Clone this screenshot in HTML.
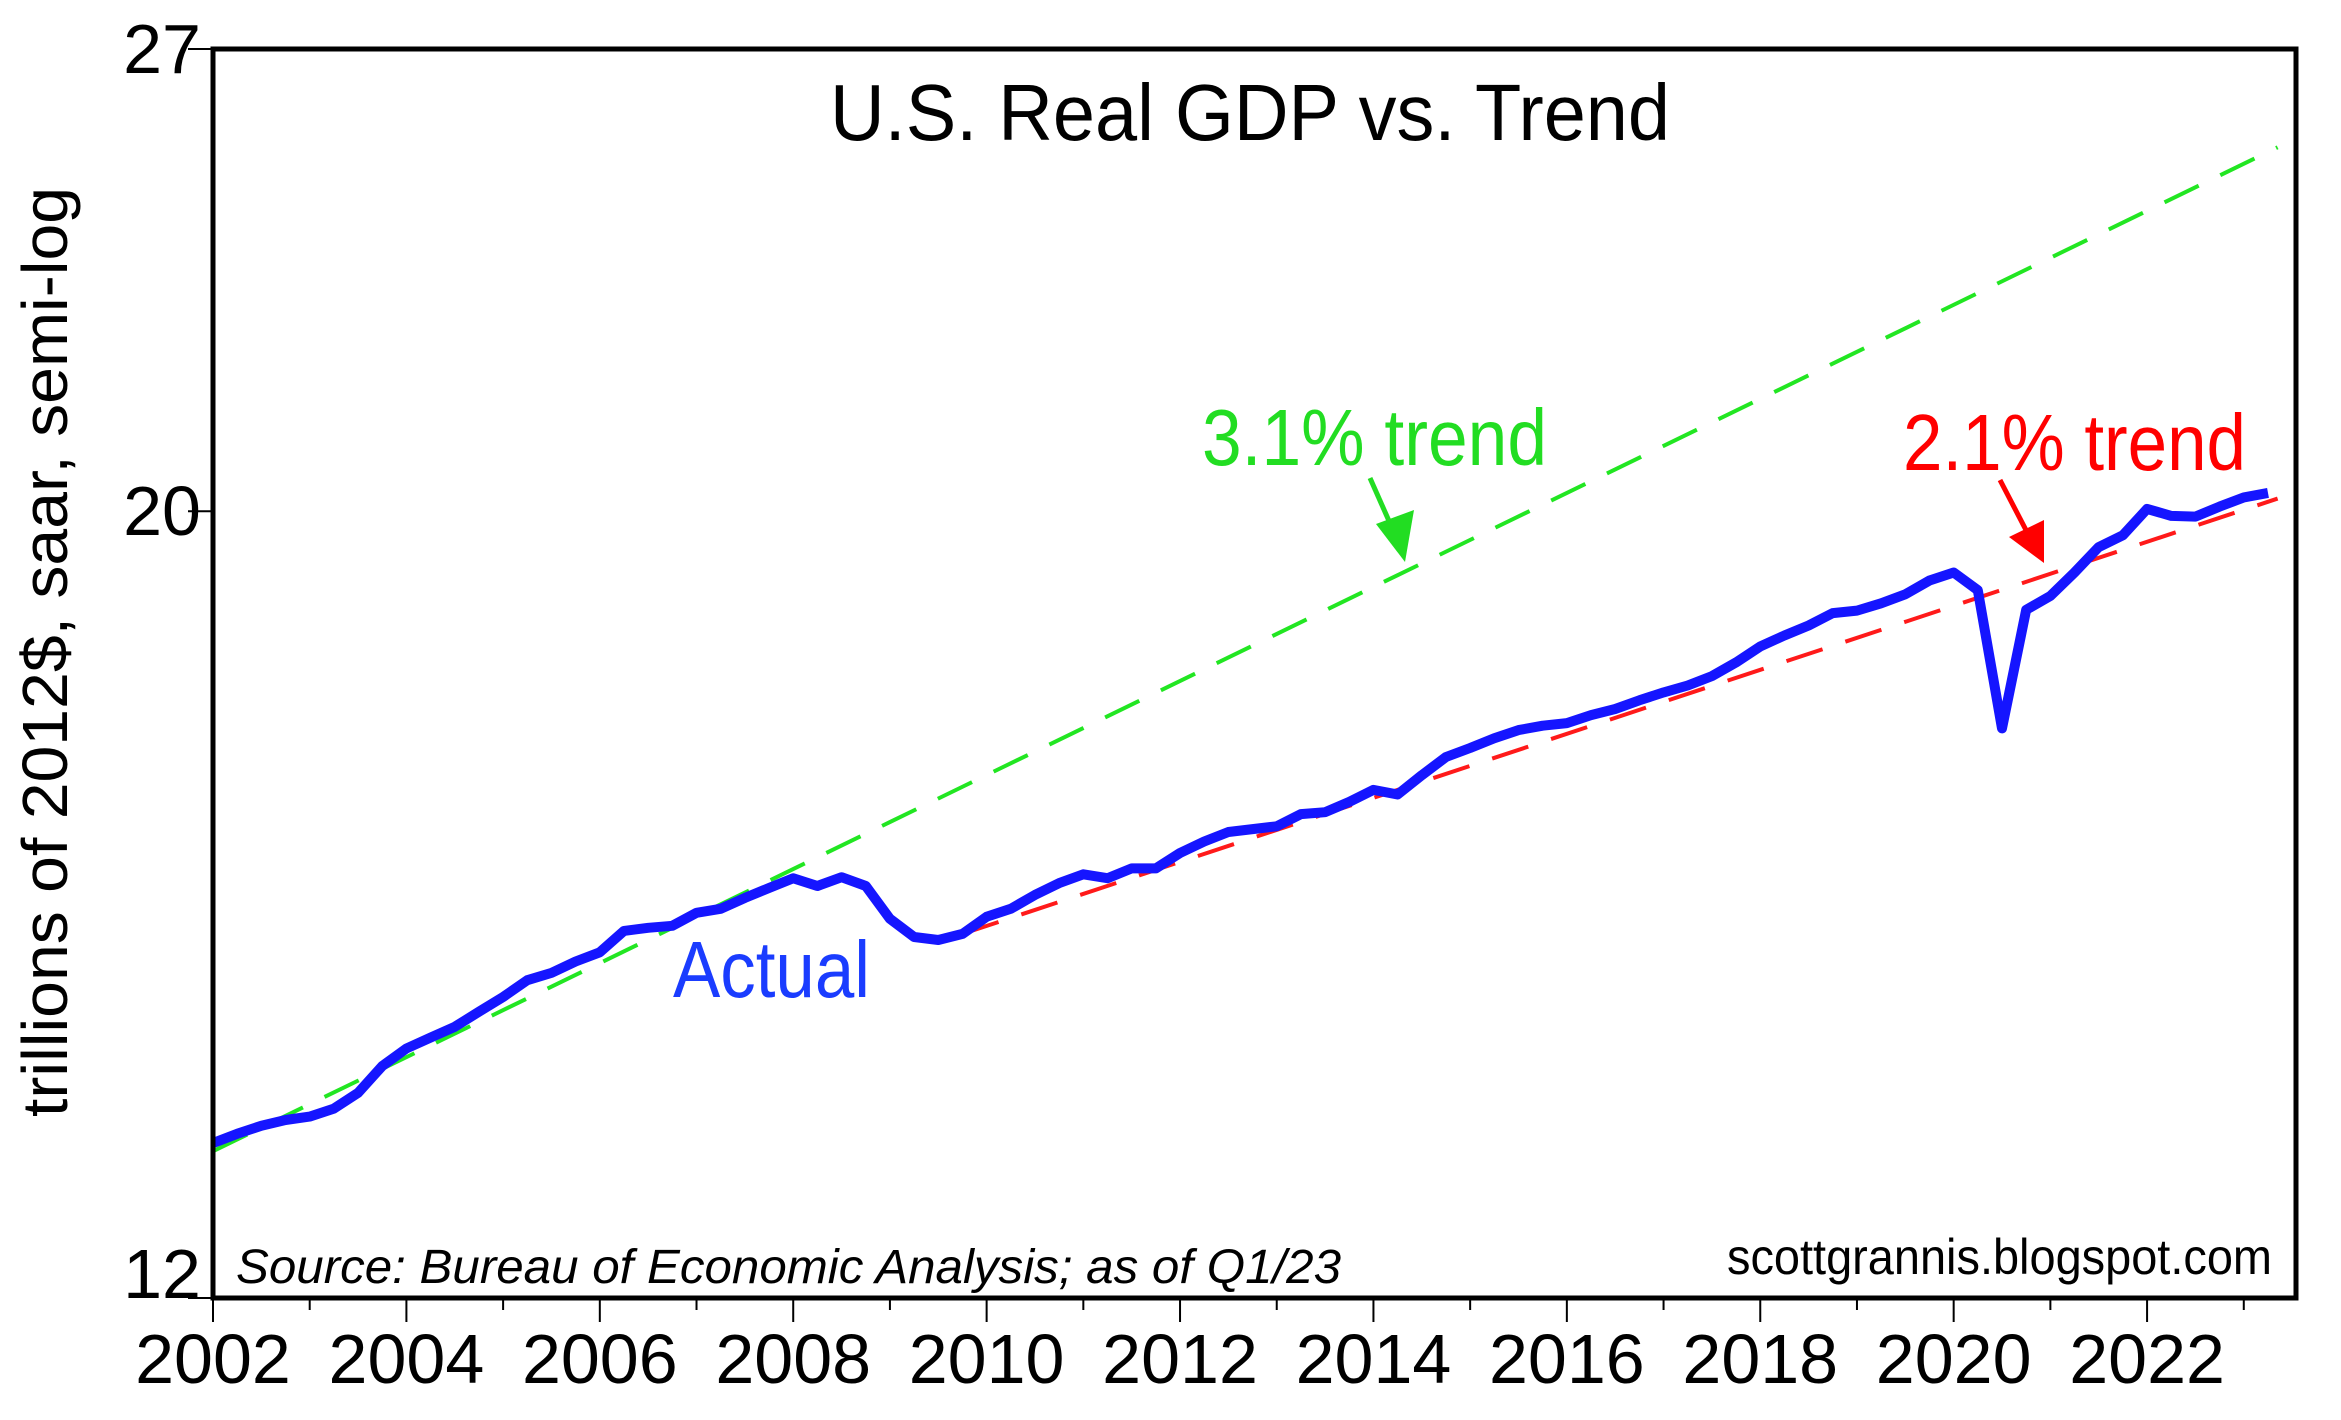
<!DOCTYPE html>
<html><head><meta charset="utf-8">
<style>
html,body{margin:0;padding:0;background:#fff;}
svg{display:block;}
text{font-family:"Liberation Sans",sans-serif;}
</style></head>
<body>
<svg id="chart" width="2341" height="1420" viewBox="0 0 2341 1420" xmlns="http://www.w3.org/2000/svg">
<rect x="0" y="0" width="2341" height="1420" fill="#fff"/>
<g id="marks"></g>
<rect x="213" y="49" width="2083" height="1249" fill="none" stroke="#000" stroke-width="5"/>
<g id="axes"></g>
<text x="1250" y="140" font-size="80" text-anchor="middle" textLength="840" lengthAdjust="spacingAndGlyphs">U.S. Real GDP vs. Trend</text>
<text x="45" y="652" font-size="64" text-anchor="middle" transform="rotate(-90 45 652)" dy="22" textLength="930" lengthAdjust="spacingAndGlyphs">trillions of 2012$, saar, semi-log</text>
<text x="1202" y="465" font-size="80" fill="#22dd22" textLength="345" lengthAdjust="spacingAndGlyphs">3.1% trend</text>
<text x="1903" y="470" font-size="80" fill="#ff0000" textLength="343" lengthAdjust="spacingAndGlyphs">2.1% trend</text>
<text x="673" y="997" font-size="80" fill="#1a3cff" textLength="197" lengthAdjust="spacingAndGlyphs">Actual</text>
<line x1="1370" y1="478" x2="1393" y2="530" stroke="#22dd22" stroke-width="5"/>
<polygon points="1405,562 1376,524 1414,510" fill="#22dd22"/>
<line x1="2000" y1="480" x2="2027" y2="532" stroke="#ff0000" stroke-width="5"/>
<polygon points="2044,563 2009,537 2044,520" fill="#ff0000"/>
<text x="236" y="1283" font-size="48" font-style="italic" textLength="1105" lengthAdjust="spacingAndGlyphs">Source:  Bureau of Economic Analysis; as of Q1/23</text>
<text x="2272" y="1274" font-size="50" text-anchor="end" textLength="545" lengthAdjust="spacingAndGlyphs">scottgrannis.blogspot.com</text>
</svg>
<script>
var quarters = ["2001Q4","2002Q1","2002Q2","2002Q3","2002Q4","2003Q1","2003Q2","2003Q3","2003Q4","2004Q1","2004Q2","2004Q3","2004Q4","2005Q1","2005Q2","2005Q3","2005Q4","2006Q1","2006Q2","2006Q3","2006Q4","2007Q1","2007Q2","2007Q3","2007Q4","2008Q1","2008Q2","2008Q3","2008Q4","2009Q1","2009Q2","2009Q3","2009Q4","2010Q1","2010Q2","2010Q3","2010Q4","2011Q1","2011Q2","2011Q3","2011Q4","2012Q1","2012Q2","2012Q3","2012Q4","2013Q1","2013Q2","2013Q3","2013Q4","2014Q1","2014Q2","2014Q3","2014Q4","2015Q1","2015Q2","2015Q3","2015Q4","2016Q1","2016Q2","2016Q3","2016Q4","2017Q1","2017Q2","2017Q3","2017Q4","2018Q1","2018Q2","2018Q3","2018Q4","2019Q1","2019Q2","2019Q3","2019Q4","2020Q1","2020Q2","2020Q3","2020Q4","2021Q1","2021Q2","2021Q3","2021Q4","2022Q1","2022Q2","2022Q3","2022Q4","2023Q1"];
var gdpValues = [13.27,13.35,13.42,13.47,13.50,13.57,13.71,13.95,14.11,14.21,14.31,14.45,14.59,14.75,14.82,14.93,15.02,15.23,15.26,15.28,15.41,15.45,15.56,15.66,15.76,15.68,15.77,15.68,15.35,15.17,15.14,15.20,15.37,15.45,15.59,15.71,15.80,15.76,15.86,15.86,16.02,16.14,16.24,16.27,16.30,16.43,16.45,16.56,16.69,16.64,16.85,17.05,17.15,17.26,17.35,17.40,17.43,17.52,17.59,17.69,17.78,17.86,17.97,18.13,18.32,18.45,18.57,18.72,18.75,18.84,18.95,19.12,19.22,19.00,17.37,18.76,18.93,19.22,19.54,19.69,20.03,19.94,19.93,20.06,20.18,20.24];
var greenTrend = {startYear:2002.0, endYear:2023.35, startValue:13.2, rate:0.031};
var redTrend = {startYear:2009.75, endYear:2023.35, startValue:15.2, rate:0.021};
var yTicks = [12, 20, 27];
var yTickLabels = ["12", "20", "27"];
var xYears = [2002,2003,2004,2005,2006,2007,2008,2009,2010,2011,2012,2013,2014,2015,2016,2017,2018,2019,2020,2021,2022,2023];

var X0=213, X1=2296, Y0=49, Y1=1298, YR0=2002, YR1=2023.54, VMIN=12, VMAX=27;
function xScale(yr){return X0+(yr-YR0)/(YR1-YR0)*(X1-X0);}
function yScale(v){return Y1-Math.log(v/VMIN)/Math.log(VMAX/VMIN)*(Y1-Y0);}
function qYear(q){var y=parseInt(q.slice(0,4));var n=parseInt(q.slice(5));return y+n/4;}
var NS="http://www.w3.org/2000/svg";
var marks=document.getElementById('marks'), axes=document.getElementById('axes');

function trendLine(t,color,name){
  var l=document.createElementNS(NS,'line');
  
  
  var v1=t.startValue*Math.pow(1+t.rate,t.endYear-t.startYear);
  l.setAttribute('x1',xScale(t.startYear));l.setAttribute('y1',yScale(t.startValue));
  l.setAttribute('x2',xScale(t.endYear));l.setAttribute('y2',yScale(v1));
  l.setAttribute('stroke',color);l.setAttribute('stroke-width','4');
  l.setAttribute('stroke-dasharray','38 24');
  marks.appendChild(l);
}
trendLine(greenTrend,'#22e622','green-trend-line');
trendLine(redTrend,'#ff1a1a','red-trend-line');

var pts=quarters.map(function(q,i){return xScale(qYear(q)).toFixed(1)+','+yScale(gdpValues[i]).toFixed(1);});
var pl=document.createElementNS(NS,'polyline');


pl.setAttribute('points',pts.join(' '));
pl.setAttribute('fill','none');pl.setAttribute('stroke','#1515ff');pl.setAttribute('stroke-width','10');pl.setAttribute('stroke-linejoin','round');
marks.appendChild(pl);

yTicks.forEach(function(v,i){
  var y=yScale(v);
  var t=document.createElementNS(NS,'line');
  
  
  t.setAttribute('x1',X0-25);t.setAttribute('x2',X0);t.setAttribute('y1',y);t.setAttribute('y2',y);
  t.setAttribute('stroke','#000');t.setAttribute('stroke-width','2');
  axes.appendChild(t);
  var tx=document.createElementNS(NS,'text');
  
  
  tx.setAttribute('x',X0-12);tx.setAttribute('y',Math.min(y+24,1298));
  tx.setAttribute('text-anchor','end');tx.setAttribute('font-size','70');
  tx.textContent=yTickLabels[i];
  axes.appendChild(tx);
});
xYears.forEach(function(yr){
  var x=xScale(yr), major=(yr%2===0);
  var t=document.createElementNS(NS,'line');
  
  
  t.setAttribute('x1',x);t.setAttribute('x2',x);t.setAttribute('y1',Y1);t.setAttribute('y2',Y1+(major?24:12));
  t.setAttribute('stroke','#000');t.setAttribute('stroke-width','2');
  axes.appendChild(t);
  if(major){
    var tx=document.createElementNS(NS,'text');
    
    
    tx.setAttribute('x',x);tx.setAttribute('y',1383);
    tx.setAttribute('text-anchor','middle');tx.setAttribute('font-size','70');
    tx.textContent=String(yr);
    axes.appendChild(tx);
  }
});
</script>
</body></html>
